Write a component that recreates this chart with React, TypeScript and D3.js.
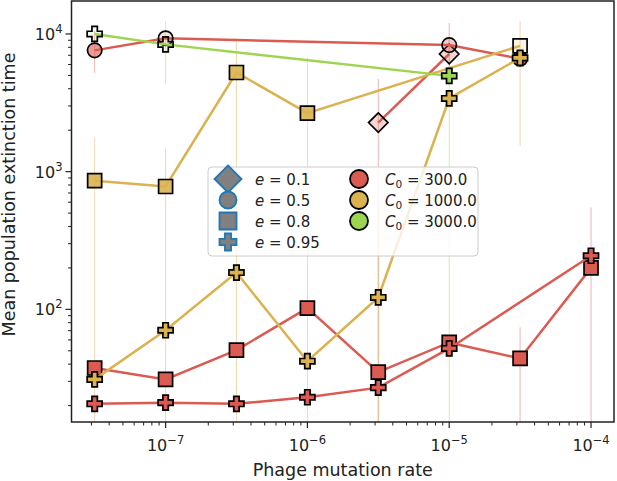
import * as d3 from "d3"

// series values
const redCircleX = [3.16e-8, 1e-7, 1e-5, 3.16e-5]
const redCircleY = [7600, 9300, 8300, 6600]
const redCircleA = [0.6, 0.15, 0.3, 0.9]

const redDiamondX = [3.16e-6, 1e-5]
const redDiamondY = [2270, 7150]
const redDiamondA = [0.25, 0.25]

const redSquareX = [3.16e-8, 1e-7, 3.16e-7, 1e-6, 3.16e-6, 1e-5, 3.16e-5, 1e-4]
const redSquareY = [37.5, 31, 50.5, 102, 35, 57.5, 44, 200]
const redSquareA = [1, 1, 1, 1, 1, 1, 1, 1]

const redPlusX = [3.16e-8, 1e-7, 3.16e-7, 1e-6, 3.16e-6, 1e-5, 1e-4]
const redPlusY = [20.6, 21, 20.6, 23, 27, 52, 245]
const redPlusA = [1, 1, 1, 1, 1, 1, 1]

const yelSquareX = [3.16e-8, 1e-7, 3.16e-7, 1e-6, 3.16e-5]
const yelSquareY = [860, 780, 5250, 2660, 8200]
const yelSquareA = [0.9, 0.9, 0.9, 0.9, 0.15]

const yelPlusX = [3.16e-8, 1e-7, 3.16e-7, 1e-6, 3.16e-6, 1e-5, 3.16e-5]
const yelPlusY = [31, 70.5, 185, 42, 122, 3400, 6700]
const yelPlusA = [1, 1, 1, 1, 1, 1, 1]

const greenPlusX = [3.16e-8, 1e-7, 1e-5]
const greenPlusY = [10000, 8400, 4960]
const greenPlusA = [0.1, 0.1, 1]

// error bars (lower 1 = runs off the bottom)
const redErrX = [3.16e-8, 1e-5, 3.16e-6, 3.16e-5, 1e-4]
const redErrLo = [5200, 5000, 1, 1, 1]
const redErrHi = [10500, 12000, 4700, 74, 550]
const yelErrX = [3.16e-8, 1e-7, 3.16e-7, 1e-6, 3.16e-6, 3.16e-5]
const yelErrLo = [1, 1, 1, 1, 1, 1540]
const yelErrHi = [1760, 1470, 9350, 6700, 600, 12400]
const greenErrX = [1e-7, 1e-5]
const greenErrLo = [4350, 1]
const greenErrHi = [12400, 9000]

const xTicks = [1e-7, 1e-6, 1e-5, 1e-4]
const xTickExp = ["−7", "−6", "−5", "−4"]
const yTicks = [1e2, 1e3, 1e4]
const yTickExp = ["2", "3", "4"]

const eLabels = ["0.1", "0.5", "0.8", "0.95"]
const eShapes = ["diamond", "circle", "square", "plus"]
const cLabels = ["300.0", "1000.0", "3000.0"]

const RED = "#db5a52"
const YEL = "#dab24f"
const GRN = "#9dd550"
const cColors = [RED, YEL, GRN]

const W = 617
const H = 481
const L = 71.5
const R = 614
const T = 1
const B = 422
const FONT = "DejaVu Sans, sans-serif"

const x = d3.scaleLog().domain([2.17e-8, 1.452e-4]).range([L, R])
const y = d3.scaleLog().domain([15.2, 17350]).range([B, T])

function markerPath(shape: string, s: number) {
  if (shape === "square") return `M${-s},${-s}H${s}V${s}H${-s}Z`
  if (shape === "diamond") return `M0,${-s * 1.35}L${s * 1.35},0L0,${s * 1.35}L${-s * 1.35},0Z`
  if (shape === "plus") {
    const t = s * 0.36
    return `M${-t},${-s}H${t}V${-t}H${s}V${t}H${t}V${s}H${-t}V${t}H${-s}V${-t}H${-t}Z`
  }
  return d3.arc()({ innerRadius: 0, outerRadius: s, startAngle: 0, endAngle: 2 * Math.PI }) as string
}

const series = [
  { c: RED, shape: "diamond", xs: redDiamondX, ys: redDiamondY, a: redDiamondA, size: 7.2 },
  { c: RED, shape: "circle", xs: redCircleX, ys: redCircleY, a: redCircleA, size: 7.2 },
  { c: RED, shape: "square", xs: redSquareX, ys: redSquareY, a: redSquareA, size: 7 },
  { c: YEL, shape: "square", xs: yelSquareX, ys: yelSquareY, a: yelSquareA, size: 7 },
  { c: RED, shape: "plus", xs: redPlusX, ys: redPlusY, a: redPlusA, size: 7.5 },
  { c: YEL, shape: "plus", xs: yelPlusX, ys: yelPlusY, a: yelPlusA, size: 7.5 },
  { c: GRN, shape: "plus", xs: greenPlusX, ys: greenPlusY, a: greenPlusA, size: 7.5 },
]

const errs = [
  { c: RED, xs: redErrX, lo: redErrLo, hi: redErrHi },
  { c: YEL, xs: yelErrX, lo: yelErrLo, hi: yelErrHi },
  { c: GRN, xs: greenErrX, lo: greenErrLo, hi: greenErrHi },
]

export default function App() {
  const line = d3
    .line<[number, number]>()
    .x((d) => x(d[0]))
    .y((d) => y(d[1]))

  const xMinor: number[] = []
  const yMinor: number[] = []
  for (let p = -8; p <= -4; p++) for (let k = 2; k <= 9; k++) xMinor.push(k * 10 ** p)
  for (let p = 1; p <= 4; p++) for (let k = 2; k <= 9; k++) yMinor.push(k * 10 ** p)
  const xm = xMinor.filter((v) => v >= 2.17e-8 && v <= 1.452e-4)
  const ym = yMinor.filter((v) => v >= 15.2 && v <= 17350)

  return (
    <div style={{ position: "fixed", left: 0, top: 0 }}>
      <svg width={W} height={H} style={{ display: "block", background: "#fff" }} fontFamily={FONT}>
        <defs>
          <clipPath id="plot">
            <rect x={L} y={T} width={R - L} height={B - T} />
          </clipPath>
        </defs>
        <g clipPath="url(#plot)">
          {errs.map((e, i) =>
            e.xs.map((xv, j) => (
              <line
                key={`e${i}-${j}`}
                x1={x(xv)}
                x2={x(xv)}
                y1={y(e.lo[j])}
                y2={y(e.hi[j])}
                stroke={e.c}
                strokeOpacity={0.45}
                strokeWidth={1}
              />
            ))
          )}
          {series.map((s, i) => (
            <g key={`s${i}`}>
              <path
                d={line(s.xs.map((v, j) => [v, s.ys[j]] as [number, number])) as string}
                fill="none"
                stroke={s.c}
                strokeWidth={2.5}
              />
              {s.xs.map((v, j) => (
                <path
                  key={j}
                  d={markerPath(s.shape, s.size)}
                  transform={`translate(${x(v)},${y(s.ys[j])})`}
                  fill={s.c}
                  fillOpacity={s.a[j]}
                  stroke="#000"
                  strokeWidth={1.7}
                />
              ))}
            </g>
          ))}
        </g>

        {/* axes */}
        <rect x={L} y={T} width={R - L} height={B - T} fill="none" stroke="#222" strokeWidth={1.5} />
        {xTicks.map((v, i) => (
          <g key={`xt${i}`} transform={`translate(${x(v)},${B})`}>
            <line y2={6} stroke="#222" strokeWidth={1.2} />
            <text y={29} textAnchor="middle" fontSize={16} fill="#222">
              10<tspan fontSize={11.5} dy={-7}>{xTickExp[i]}</tspan>
            </text>
          </g>
        ))}
        {xm.map((v, i) => (
          <line key={`xm${i}`} x1={x(v)} x2={x(v)} y1={B} y2={B + 3.5} stroke="#222" strokeWidth={1} />
        ))}
        {yTicks.map((v, i) => (
          <g key={`yt${i}`} transform={`translate(${L},${y(v)})`}>
            <line x2={-6} stroke="#222" strokeWidth={1.2} />
            <text x={-9} y={6} textAnchor="end" fontSize={16} fill="#222">
              10<tspan fontSize={11.5} dy={-7}>{yTickExp[i]}</tspan>
            </text>
          </g>
        ))}
        {ym.map((v, i) => (
          <line key={`ym${i}`} x1={L} x2={L - 3.5} y1={y(v)} y2={y(v)} stroke="#222" strokeWidth={1} />
        ))}
        <text x={(L + R) / 2 + 0} y={476} textAnchor="middle" fontSize={17.5} fill="#222">
          Phage mutation rate
        </text>
        <text
          transform={`translate(15,${(T + B) / 2 - 17}) rotate(-90)`}
          textAnchor="middle"
          fontSize={17.5}
          fill="#222"
        >
          Mean population extinction time
        </text>

        {/* legend */}
        <g transform="translate(208,167)">
          <rect width={270} height={89} rx={4} fill="#fff" fillOpacity={0.8} stroke="#ccc" strokeWidth={1} />
          {eLabels.map((lab, i) => (
            <g key={`le${i}`} transform={`translate(20,${12 + i * 21})`}>
              <path
                d={markerPath(eShapes[i], eShapes[i] === "diamond" ? 10 : 8.5)}
                fill="#808080"
                stroke="#1f77b4"
                strokeWidth={1.8}
              />
              <text x={27} y={5.5} fontSize={15} fill="#222">
                <tspan fontStyle="italic">e</tspan> = {lab}
              </text>
            </g>
          ))}
          {cLabels.map((lab, i) => (
            <g key={`lc${i}`} transform={`translate(151,${12 + i * 21})`}>
              <circle r={9} fill={cColors[i]} stroke="#000" strokeWidth={1.8} />
              <text x={26} y={5.5} fontSize={15} fill="#222">
                <tspan fontStyle="italic">C</tspan>
                <tspan fontSize={10.5} dy={3}>0</tspan>
                <tspan dy={-3}> = {lab}</tspan>
              </text>
            </g>
          ))}
        </g>
      </svg>
    </div>
  )
}
